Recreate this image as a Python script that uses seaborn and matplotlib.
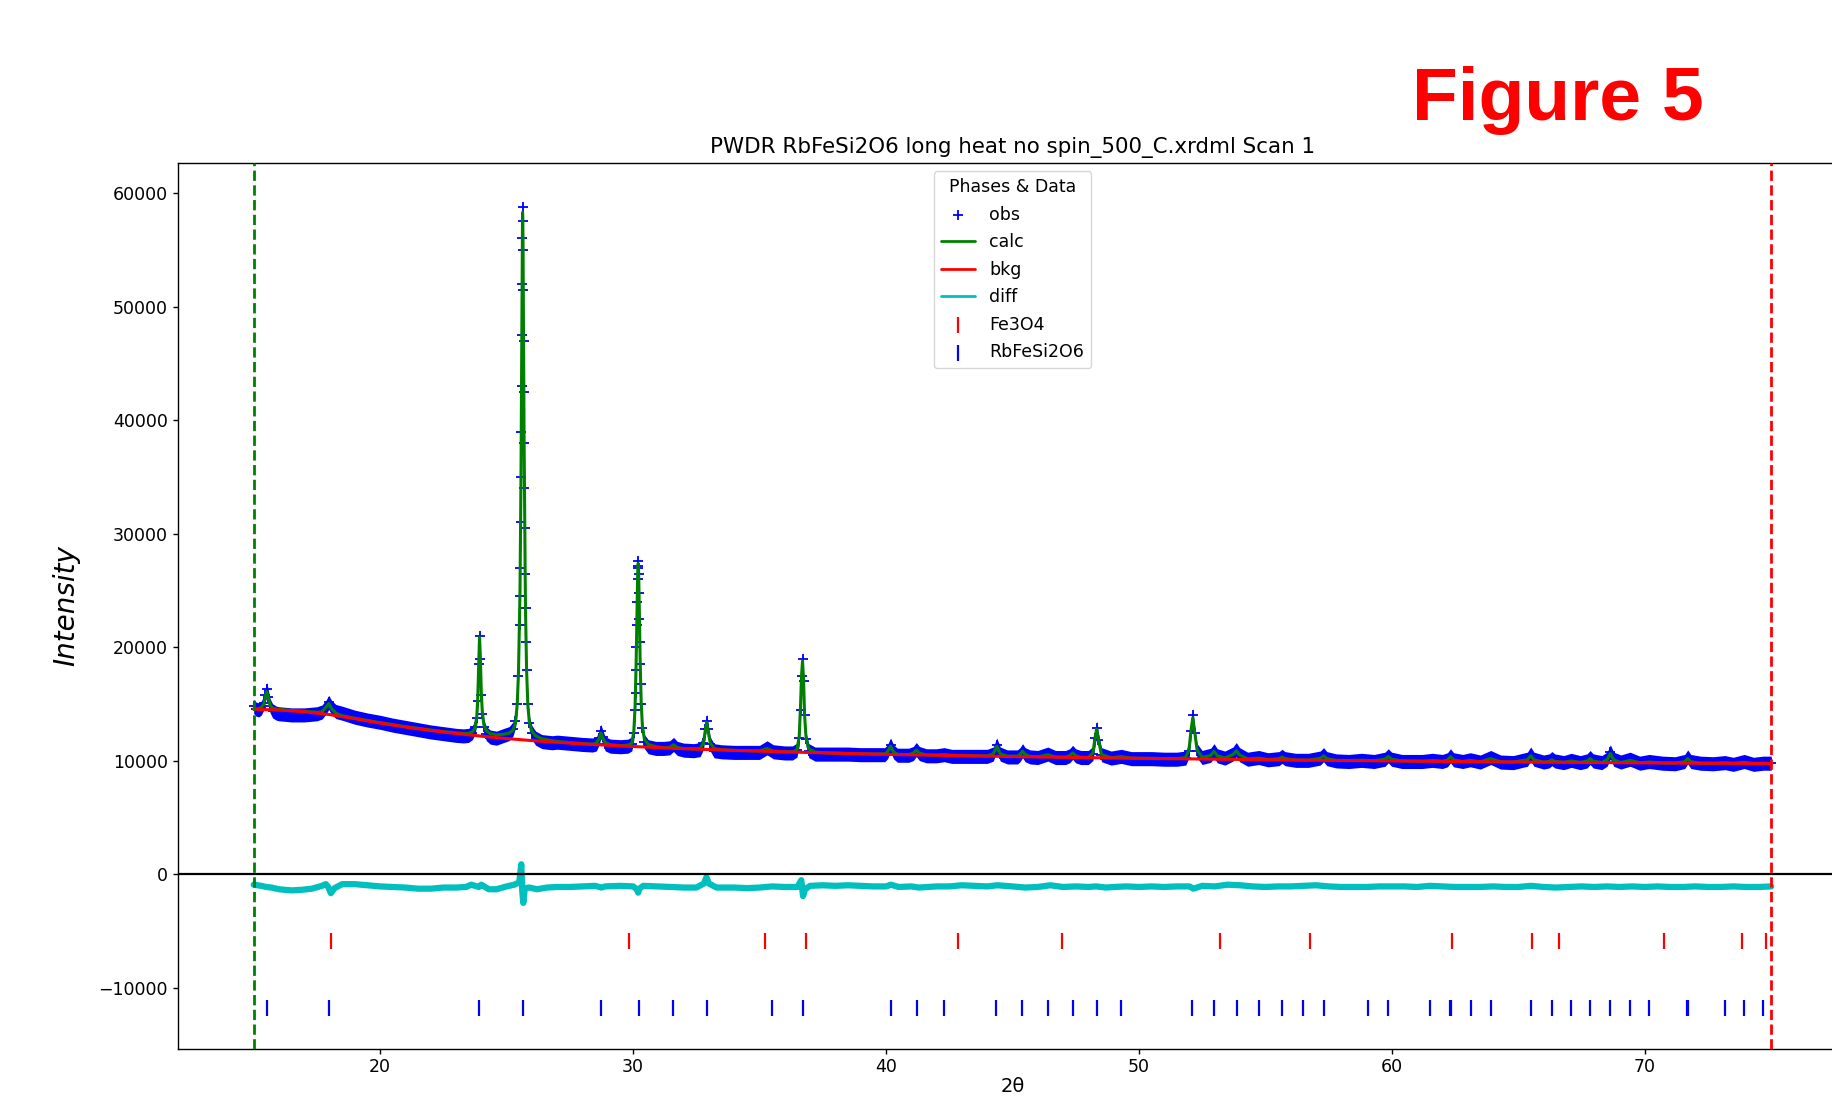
import numpy as np
import matplotlib
matplotlib.use("Agg")
import matplotlib.pyplot as plt
import seaborn as sns

# ---------------- data ----------------
title_text = "PWDR RbFeSi2O6 long heat no spin_500_C.xrdml Scan 1"

two_theta = [
    15.00, 15.10, 15.20, 15.30, 15.40, 15.46, 15.52, 15.58, 15.65, 15.75, 15.90, 16.00, 16.50, 17.00, 17.50, 17.70, 17.85, 17.97, 18.08, 18.25, 18.50,
    19.00, 19.50, 20.00, 20.50, 21.00, 21.50, 22.00, 22.50, 23.00, 23.30, 23.50, 23.65, 23.75, 23.82, 23.86, 23.90, 23.93, 23.96, 24.00, 24.04, 24.10, 24.20, 24.35, 24.60,
    24.90, 25.10, 25.25, 25.35, 25.42, 25.47, 25.51, 25.53, 25.54, 25.555, 25.57, 25.58, 25.59, 25.60, 25.61, 25.62, 25.63, 25.64, 25.65, 25.66, 25.67, 25.68, 25.69, 25.705, 25.72, 25.735, 25.75, 25.77, 25.79, 25.84, 25.90, 26.00, 26.15, 26.40, 26.80,
    27.00, 27.50, 28.00, 28.40, 28.55, 28.65, 28.73, 28.80, 28.90, 29.10, 29.50, 29.80, 29.95, 30.03, 30.08, 30.10, 30.12, 30.135, 30.15, 30.165, 30.18, 30.19, 30.20, 30.21, 30.22, 30.235, 30.25, 30.265, 30.28, 30.30, 30.32, 30.37, 30.45, 30.60, 30.90, 31.20,
    31.45, 31.60, 31.75, 32.00, 32.40, 32.65, 32.78, 32.86, 32.91, 32.96, 33.05, 33.20, 33.50, 34.00, 34.50, 35.00, 35.30, 35.55, 36.00, 36.30, 36.48, 36.57, 36.62, 36.66, 36.70, 36.74, 36.78, 36.84, 36.95, 37.20, 37.50,
    38.00, 38.50, 39.00, 39.50, 39.95, 40.06, 40.18, 40.30, 40.45, 40.90, 41.08, 41.20, 41.32, 41.60, 42.00, 42.30, 42.60, 43.00, 43.50, 44.00, 44.24, 44.38, 44.52, 44.80, 45.20, 45.30, 45.40, 45.50, 45.70, 46.00, 46.40, 46.70, 47.10, 47.26, 47.38, 47.50, 47.70, 48.00, 48.18, 48.27, 48.33, 48.40, 48.52, 48.90, 49.30, 49.70,
    50.00, 50.50, 51.00, 51.50, 51.85, 51.98, 52.06, 52.13, 52.20, 52.30, 52.50, 52.84, 52.97, 53.10, 53.40, 53.72, 53.85, 53.98, 54.30, 54.74, 55.10, 55.54, 55.66, 55.78, 56.20, 56.70, 57.17, 57.30, 57.43, 57.80, 58.30, 58.80, 59.30, 59.73, 59.86, 59.99, 60.40, 60.80,
    61.20, 61.60, 62.00, 62.20, 62.32, 62.44, 62.80, 63.10, 63.50, 63.91, 64.30, 64.80, 65.36, 65.49, 65.62, 66.00, 66.22, 66.33, 66.44, 66.80, 67.09, 67.45, 67.72, 67.84, 67.96, 68.30, 68.51, 68.64, 68.77, 69.05, 69.42, 69.80, 70.17, 70.70, 71.20, 71.58, 71.70, 71.82, 72.20, 72.70, 73.17, 73.50, 73.93, 74.30, 74.68, 75.00,
]

obs = [
    14800, 14550, 14500, 14650, 15100, 15800, 16300, 15600, 14850, 14400, 14200, 14150, 14050, 14050, 14150, 14300, 14700, 15150, 14700, 14350, 14200,
    13850, 13600, 13400, 13150, 12950, 12750, 12550, 12400, 12250, 12200, 12250, 12500, 12950, 13800, 15300, 18500, 21000, 19000, 15800, 14100, 13000, 12400, 12100, 12000,
    12250, 12400, 12800, 13500, 15000, 17500, 22000, 24500, 27000, 31000, 35000, 39000, 43000, 47500, 52000, 56000, 58800, 57500, 55000, 51500, 47000, 42500, 38000, 34000, 30500, 26500, 23500, 20500, 18000, 15000, 13300, 12500, 12000, 11700, 11600,
    11650, 11550, 11450, 11400, 11500, 12000, 12600, 12100, 11500, 11300, 11250, 11300, 11500, 12500, 14500, 16000, 18000, 20000, 22000, 24000, 26000, 27000, 27600, 27200, 26500, 24800, 22500, 20500, 18500, 16800, 15000, 12900, 11700, 11250, 11100, 11100,
    11150, 11450, 11100, 10950, 10900, 11000, 11600, 12800, 13500, 12800, 11500, 10900, 10800, 10750, 10750, 10750, 11150, 10800, 10700, 10700, 10950, 12000, 14500, 17500, 19000, 17000, 14000, 11900, 10900, 10600, 10600,
    10600, 10600, 10550, 10550, 10550, 10800, 11400, 10800, 10500, 10500, 10650, 11000, 10650, 10450, 10450, 10550, 10400, 10400, 10400, 10400, 10600, 11400, 10600, 10350, 10350, 10550, 10900, 10550, 10350, 10300, 10600, 10300, 10300, 10450, 10750, 10450, 10300, 10300, 10650, 12000, 12900, 11800, 10550, 10250, 10400, 10200,
    10200, 10200, 10150, 10150, 10250, 10900, 12600, 14000, 12500, 10900, 10300, 10500, 10900, 10450, 10250, 10600, 11000, 10550, 10150, 10300, 10100, 10200, 10400, 10200, 10050, 10050, 10250, 10550, 10200, 10000, 9950, 10050, 9950, 10150, 10450, 10150, 9950, 9950,
    9950, 10050, 9950, 10100, 10450, 10100, 9950, 10100, 9900, 10300, 9900, 9850, 10150, 10600, 10150, 9900, 10000, 10200, 10000, 9850, 10050, 9850, 10000, 10300, 10000, 9850, 10150, 10800, 10150, 9900, 10150, 9800, 9950, 9800, 9750, 9950, 10350, 9950, 9800, 9750, 9850, 9700, 9950, 9700, 9800, 9800,
]

calc = [
    14580, 14580, 14620, 14700, 15000, 15650, 16100, 15550, 14900, 14650, 14560, 14530, 14440, 14380, 14280, 14330, 14700, 15050, 14600, 14200, 13980,
    13760, 13560, 13370, 13200, 13020, 12870, 12720, 12590, 12470, 12420, 12420, 12550, 12900, 13900, 15500, 18800, 20900, 19300, 16000, 14300, 13200, 12650, 12400, 12300,
    12350, 12450, 12700, 13300, 15000, 17800, 22500, 25000, 27500, 31500, 35500, 39500, 44000, 48500, 52500, 56500, 58300, 57800, 55500, 51800, 47500, 43000, 38500, 34000, 30000, 26300, 23000, 20200, 18000, 14900, 13400, 12600, 12200, 11950, 11780,
    11720, 11610, 11540, 11480, 11560, 11950, 12450, 12050, 11600, 11420, 11350, 11380, 11550, 12600, 14800, 16500, 18500, 20500, 22500, 24500, 26200, 27000, 27400, 27300, 26700, 25000, 23000, 20800, 18800, 17000, 15200, 13000, 11900, 11450, 11250, 11170,
    11200, 11420, 11180, 11090, 11060, 11100, 11550, 12750, 13400, 12700, 11600, 11100, 10980, 10930, 10900, 10880, 11100, 10860, 10800, 10800, 10950, 12200, 14800, 17500, 18800, 17200, 14100, 12000, 11050, 10780, 10720,
    10690, 10660, 10630, 10610, 10620, 10800, 11300, 10780, 10580, 10560, 10680, 10950, 10680, 10530, 10510, 10560, 10490, 10470, 10450, 10440, 10620, 11300, 10620, 10420, 10420, 10560, 10850, 10560, 10400, 10360, 10550, 10340, 10330, 10450, 10700, 10450, 10320, 10320, 10700, 12100, 12800, 11900, 10550, 10280, 10380, 10250,
    10240, 10220, 10210, 10200, 10300, 11000, 12700, 13800, 12600, 10950, 10320, 10480, 10850, 10450, 10260, 10560, 10900, 10520, 10180, 10250, 10120, 10200, 10350, 10200, 10080, 10070, 10220, 10450, 10200, 10050, 10040, 10060, 10020, 10150, 10380, 10150, 10000, 9990,
    9980, 10030, 9970, 10080, 10380, 10080, 9960, 10050, 9930, 10200, 9920, 9900, 10100, 10450, 10100, 9890, 9960, 10100, 9960, 9880, 10000, 9870, 9980, 10200, 9980, 9860, 10100, 10650, 10100, 9860, 10050, 9840, 9900, 9820, 9810, 9930, 10200, 9930, 9800, 9790, 9840, 9785, 9880, 9775, 9800, 9770,
]

# half-thickness of the scatter band of the observed points
obs_spread = 620

bkg_two_theta = [15, 16, 17, 18, 19, 20, 21, 22, 23, 24, 25, 26, 27, 28, 29, 30, 31, 32, 33, 34, 35, 36, 37, 38,
                 40, 42, 44, 46, 48, 50, 52, 54, 56, 58, 60, 62, 64, 66, 68, 70, 72, 74, 75]
bkg = [14550, 14480, 14330, 14080, 13720, 13330, 12980, 12680, 12420, 12180, 11970, 11790, 11640, 11500, 11380, 11270, 11170, 11080, 11000, 10930,
       10860, 10800, 10740, 10680, 10580, 10500, 10420, 10350, 10290, 10230, 10180, 10130, 10080, 10040, 10000, 9960, 9920, 9890, 9860, 9830, 9800, 9780, 9770]

diff_two_theta = [
    15.0, 15.3, 15.5, 15.7, 16.0, 16.5, 16.9, 17.3, 17.7, 17.85, 17.95, 18.05, 18.2, 18.5, 19.0, 19.5, 20.0, 20.5, 21.0, 21.5, 22.0, 22.5, 23.0, 23.4, 23.6, 23.9, 24.0, 24.3, 24.6, 25.0, 25.3, 25.5,
    25.58, 25.62, 25.66, 25.72, 25.9, 26.2, 26.6, 27.0, 27.5, 28.0, 28.5, 28.75, 28.9, 29.5, 30.0, 30.15, 30.2, 30.25, 30.4, 31.0, 31.5, 32.0, 32.5, 32.8, 32.9, 33.0, 33.3, 34.0, 34.5, 35.0, 35.5,
    36.0, 36.5, 36.65, 36.72, 36.8, 37.0, 37.5, 38.0, 38.5, 39.0, 39.5, 40.0, 40.2, 40.5, 41.0, 41.3, 42.0, 42.5, 43.0, 43.5, 44.0, 44.4, 45.0, 45.5, 46.0, 46.5, 47.0, 47.5, 48.0, 48.3, 48.7,
    49.0, 49.5, 50.0, 50.5, 51.0, 51.5, 52.0, 52.15, 52.5, 53.0, 53.5, 54.0, 54.5, 55.0, 55.5, 56.0, 56.5, 57.0, 57.5, 58.0, 58.5, 59.0, 59.5, 60.0, 60.5, 61.0, 61.5, 62.0, 62.5, 63.0,
    63.5, 64.0, 64.5, 65.0, 65.5, 66.0, 66.5, 67.0, 67.5, 68.0, 68.5, 69.0, 69.5, 70.0, 70.5, 71.0, 71.5, 72.0, 72.5, 73.0, 73.5, 74.0, 74.5, 75.0,
]
diff = [
    -900, -1000, -1100, -1150, -1300, -1400, -1350, -1250, -1000, -850, -1100, -1650, -1200, -850, -850, -950, -1050, -1100, -1150, -1250, -1250, -1150, -1150, -1100, -900, -1100, -900, -1300, -1300, -1050, -900, -700,
    900, -1500, -2500, -1200, -1150, -1300, -1150, -1100, -1100, -1050, -1000, -1150, -1050, -1000, -1050, -1300, -1600, -1250, -1000, -1050, -1100, -1150, -1150, -800, -250, -800, -1150, -1150, -1200, -1150, -1050,
    -1100, -1100, -500, -1900, -1300, -1000, -950, -1000, -950, -1000, -1050, -1050, -900, -1100, -1050, -1150, -1050, -1050, -950, -1000, -1050, -950, -1050, -1150, -1100, -950, -1100, -1050, -1100, -1050, -1150,
    -1100, -1050, -1100, -1050, -1100, -1050, -1050, -1250, -1000, -1050, -900, -950, -1050, -1100, -1050, -1050, -1000, -950, -1050, -1100, -1100, -1100, -1050, -1050, -1050, -1100, -1000, -1050, -1100, -1100,
    -1100, -1050, -1100, -1100, -1000, -1100, -1150, -1100, -1050, -1100, -1050, -1100, -1050, -1100, -1050, -1100, -1100, -1050, -1100, -1100, -1050, -1100, -1100, -1050,
]

fe3o4_ticks = [18.06, 29.84, 35.23, 36.85, 42.86, 46.96, 53.20, 56.77, 62.36, 65.55, 66.60, 70.76, 73.83, 74.79]
rbfesi2o6_ticks = [15.51, 17.96, 23.89, 25.64, 28.72, 30.22, 31.58, 32.94, 35.48, 36.71, 40.18, 41.22, 42.29,
                   44.36, 45.38, 46.40, 47.38, 48.33, 49.29, 52.11, 52.97, 53.87, 54.74, 55.66, 56.50, 57.32,
                   59.04, 59.86, 61.50, 62.30, 62.34, 63.11, 63.91, 65.49, 66.33, 67.09, 67.84, 68.64, 69.42,
                   70.17, 71.68, 71.72, 73.17, 73.93, 74.68]
fe3o4_row = -5850
rbfesi2o6_row = -11750

data_limits = [15.0, 75.0]

assert len(two_theta) == len(obs) == len(calc)
assert len(diff_two_theta) == len(diff)
assert len(bkg_two_theta) == len(bkg)

# ---------------- styling ----------------
sns.set_style("ticks", rc={"axes.edgecolor": "black", "xtick.color": "black", "ytick.color": "black",
                           "text.color": "black", "axes.labelcolor": "black"})
plt.rcParams["font.family"] = ["DejaVu Sans"]

fig = plt.figure(figsize=(18.33, 11.01), dpi=100)
ax = fig.add_axes([0.0970, 0.0476, 0.9107, 0.8048])

tt = np.array(two_theta, dtype=float)
ob = np.array(obs, dtype=float)

# observed: scatter band + '+' markers
ax.fill_between(tt, ob - obs_spread, ob + obs_spread, color="blue", lw=0, zorder=1)
sns.scatterplot(x=two_theta, y=obs, marker="+", s=60, color="blue", linewidth=1.3, ax=ax, zorder=2)
h_obs = ax.collections[-1]

sns.lineplot(x=two_theta, y=calc, sort=False, estimator=None, color="green", linewidth=2.2, ax=ax, zorder=3)
h_calc = ax.lines[-1]
sns.lineplot(x=bkg_two_theta, y=bkg, sort=False, estimator=None, color="red", linewidth=2.2, ax=ax, zorder=4)
h_bkg = ax.lines[-1]
sns.lineplot(x=diff_two_theta, y=diff, sort=False, estimator=None, color="#00bfbf", linewidth=4.5, ax=ax, zorder=3)
h_diff = ax.lines[-1]

sns.scatterplot(x=fe3o4_ticks, y=[fe3o4_row] * len(fe3o4_ticks), marker="|", s=140, color="red",
                linewidth=1.6, ax=ax, zorder=4)
h_fe = ax.collections[-1]
sns.scatterplot(x=rbfesi2o6_ticks, y=[rbfesi2o6_row] * len(rbfesi2o6_ticks), marker="|", s=140, color="blue",
                linewidth=1.6, ax=ax, zorder=4)
h_rb = ax.collections[-1]

ax.axhline(0, color="black", lw=1.6, zorder=5)
ax.axvline(data_limits[0], color="green", ls="--", lw=2.0, zorder=6)
ax.axvline(data_limits[1], color="red", ls="--", lw=2.0, zorder=6)

ax.set_xlim(12, 78)
ax.set_ylim(-15330, 62690)
ax.set_xticks([20, 30, 40, 50, 60, 70])
ax.set_yticks(list(range(-10000, 60001, 10000)))
ax.tick_params(axis="both", labelsize=12.5, length=3.5, width=1.0, direction="out")
for sp in ax.spines.values():
    sp.set_linewidth(1.0)
    sp.set_color("black")

ax.set_title(title_text, fontsize=15.4, pad=7)
ax.set_ylabel("Intensity", fontsize=20, style="italic")
ax.yaxis.set_label_coords(-0.0585, 0.5)
ax.set_xlabel("2θ", fontsize=14)
ax.xaxis.set_label_coords(0.5, -0.0321)

leg = ax.legend([h_obs, h_calc, h_bkg, h_diff, h_fe, h_rb],
                ["obs", "calc", "bkg", "diff", "Fe3O4", "RbFeSi2O6"],
                title="Phases & Data", loc="upper center", fontsize=12.5, title_fontsize=12.5,
                labelspacing=0.55, handlelength=2.0, frameon=True, framealpha=0.8, edgecolor="0.8",
                scatterpoints=1, borderaxespad=0.5)
for ln in leg.get_lines():
    ln.set_linewidth(2.0)

fig.text(0.7703, 0.891, "Figure 5", fontsize=54, fontweight="bold", color="red",
         family=["Liberation Sans", "DejaVu Sans"], va="baseline", ha="left")

fig.savefig("out.png", dpi=100)
